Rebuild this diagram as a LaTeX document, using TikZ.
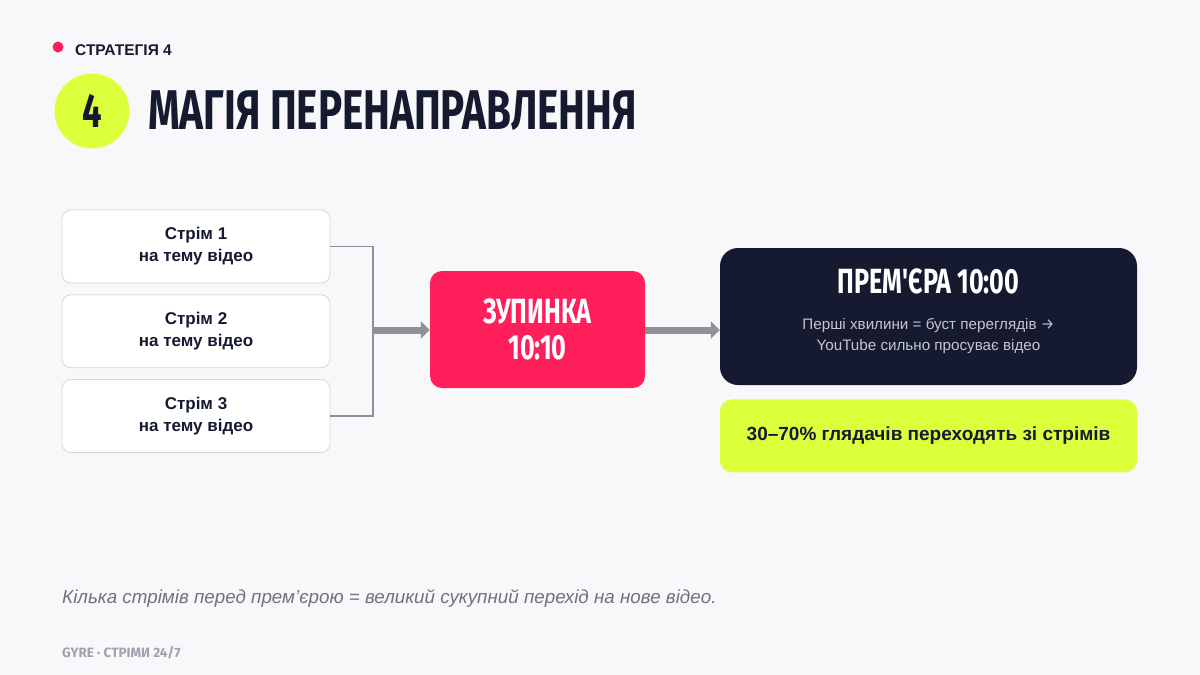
\documentclass[tikz,border=0pt]{standalone}
\usepackage{fontspec}
\setmainfont{Liberation Sans}
\newfontfamily\headfont[FakeStretch=0.72]{Fira Sans}
\newfontfamily\footfont{Fira Sans}
\usetikzlibrary{positioning,arrows.meta}
\definecolor{bgc}{HTML}{F8F8FA}
\definecolor{navy}{HTML}{151A30}
\definecolor{hot}{HTML}{FF1F5B}
\definecolor{lime}{HTML}{DCFF3C}
\definecolor{wiregray}{HTML}{8E9298}
\definecolor{boxline}{HTML}{D6D8DD}
\definecolor{subgray}{HTML}{C3C6CF}
\definecolor{notegray}{HTML}{6E7282}
\definecolor{footgray}{HTML}{9EA2AC}
\tikzset{
  streambox/.style={draw=boxline, line width=0.8pt, fill=white, rounded corners=9pt,
    minimum width=268pt, minimum height=73pt, inner sep=0pt, align=center,
    text=navy, font=\bfseries\fontsize{17}{22}\selectfont},
  wire/.style={draw=wiregray, line width=1.6pt},
  fat/.style={draw=wiregray, line width=7pt, -{Triangle[length=9pt,width=17pt]}}
}
\begin{document}
\begin{tikzpicture}[x=1pt,y=1pt]
  \fill[bgc] (0,0) rectangle (1200,-675);
  \useasboundingbox (0,0) rectangle (1200,-675);
  % header
  \fill[hot] (58,-47) circle (5.5);
  \node[anchor=west, inner sep=0pt, text=navy, font=\bfseries\fontsize{15.5}{18}\selectfont] (tag) at (75,-50) {СТРАТЕГІЯ 4};
  \node[circle, fill=lime, minimum size=75pt, inner sep=0pt, text=navy,
        font=\headfont\bfseries\fontsize{48}{50}\selectfont] (num) at (92,-111) {4};
  \node[anchor=west, inner sep=0pt, text=navy, font=\headfont\bfseries\fontsize{56}{60}\selectfont] (title) at (148,-111) {МАГІЯ ПЕРЕНАПРАВЛЕННЯ};
  % streams
  \node[streambox] (s1) at (196,-246.5) {Стрім 1\\на тему відео};
  \node[streambox, below=11pt of s1] (s2) {Стрім 2\\на тему відео};
  \node[streambox, below=11pt of s2] (s3) {Стрім 3\\на тему відео};
  \coordinate (j) at (373,-330);
  \draw[wire] (s1.east) -| (j);
  \draw[wire] (s3.east) -| (j);
  % stop, premiere, result
  \node[fill=hot, rounded corners=12pt, minimum width=215pt, minimum height=117pt, align=center,
        text=white, font=\headfont\bfseries\fontsize{35}{36}\selectfont] (stop) at (537.5,-329.5) {ЗУПИНКА\\10:10};
  \node[fill=navy, rounded corners=18pt, minimum width=417pt, minimum height=137pt] (prem) at (928.5,-316.5) {};
  \node[text=white, font=\headfont\bfseries\fontsize{35}{40}\selectfont] (premtitle) at ([yshift=-34pt]prem.north) {ПРЕМ'ЄРА 10:00};
  \node[text=subgray, align=center, font=\fontsize{15.2}{21}\selectfont] (premsub) at ([yshift=-88pt]prem.north)
        {Перші хвилини = буст переглядів {\footfont →}\\YouTube сильно просуває відео};
  \node[fill=lime, rounded corners=12pt, minimum width=417pt, minimum height=73pt, below=14pt of prem,
        text=navy, font=\bfseries\fontsize{19}{22}\selectfont] (share) {30–70\% глядачів переходять зі стрімів};
  \draw[fat] (j) -- (j -| stop.west);
  \draw[fat] (stop.east |- j) -- (prem.west |- j);
  % footer
  \node[anchor=west, inner sep=0pt, text=notegray, font=\itshape\fontsize{18.8}{22}\selectfont] (note) at (62,-598)
        {Кілька стрімів перед прем'єрою = великий сукупний перехід на нове відео.};
  \node[anchor=west, inner sep=0pt, text=footgray, font=\footfont\bfseries\fontsize{13.5}{16}\selectfont] (foot) at (62,-653) {GYRE · СТРІМИ 24/7};
\end{tikzpicture}
\end{document}
